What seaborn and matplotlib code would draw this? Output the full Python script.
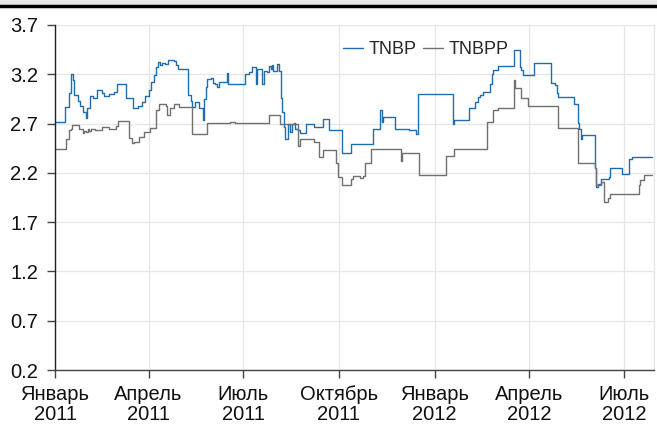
import pandas as pd
import matplotlib
matplotlib.use("Agg")
import matplotlib.pyplot as plt
import seaborn as sns

# TNBP (blue) change points
tnbp_dates = [
    "2011-01-01", "2011-01-11", "2011-01-14", "2011-01-16", "2011-01-18", "2011-01-19",
    "2011-01-23", "2011-01-25", "2011-01-28", "2011-01-31", "2011-02-01", "2011-02-04",
    "2011-02-07", "2011-02-10", "2011-02-15", "2011-02-17", "2011-02-22", "2011-02-27",
    "2011-03-02", "2011-03-10", "2011-03-17", "2011-03-22", "2011-03-26", "2011-03-29",
    "2011-04-01", "2011-04-03", "2011-04-06", "2011-04-08", "2011-04-10", "2011-04-12",
    "2011-04-14", "2011-04-17", "2011-04-20", "2011-04-25", "2011-04-27", "2011-04-29",
    "2011-05-09", "2011-05-12", "2011-05-13", "2011-05-16", "2011-05-19", "2011-05-23",
    "2011-05-24", "2011-05-26", "2011-05-27", "2011-05-31", "2011-06-02", "2011-06-04",
    "2011-06-06", "2011-06-08", "2011-06-15", "2011-06-16", "2011-07-03", "2011-07-07",
    "2011-07-09", "2011-07-13", "2011-07-14", "2011-07-19", "2011-07-21", "2011-07-24",
    "2011-07-26", "2011-07-28", "2011-07-29", "2011-07-30", "2011-08-02", "2011-08-04",
    "2011-08-06", "2011-08-07", "2011-08-09", "2011-08-10", "2011-08-13", "2011-08-15",
    "2011-08-17", "2011-08-19", "2011-08-20", "2011-08-23", "2011-08-25", "2011-08-30",
    "2011-09-07", "2011-09-16", "2011-09-21", "2011-10-04", "2011-10-13", "2011-11-03",
    "2011-11-10", "2011-11-11", "2011-11-12", "2011-11-24", "2011-12-07", "2011-12-14",
    "2011-12-16", "2012-01-19", "2012-01-20", "2012-02-03", "2012-02-09", "2012-02-12",
    "2012-02-14", "2012-02-17", "2012-02-23", "2012-02-25", "2012-02-26", "2012-03-02",
    "2012-03-17", "2012-03-23", "2012-03-24", "2012-03-26", "2012-04-06", "2012-04-22",
    "2012-04-26", "2012-04-28", "2012-04-29", "2012-05-14", "2012-05-18", "2012-05-19",
    "2012-05-21", "2012-05-22", "2012-06-03", "2012-06-04", "2012-06-06", "2012-06-09",
    "2012-06-17", "2012-06-18", "2012-06-29", "2012-07-06", "2012-07-09", "2012-07-28",
]
tnbp_values = [
    2.72, 2.87, 3.01, 3.20, 3.14, 2.99,
    2.93, 2.88, 2.82, 2.76, 2.86, 2.98,
    2.96, 3.04, 3.01, 2.98, 3.00, 3.02,
    3.10, 2.96, 2.86, 2.88, 2.92, 2.98,
    3.04, 3.12, 3.19, 3.27, 3.32, 3.29,
    3.31, 3.30, 3.35, 3.33, 3.29, 3.25,
    2.99, 2.93, 2.87, 2.92, 2.86, 2.74,
    2.95, 3.07, 3.15, 3.16, 3.11, 3.10,
    3.07, 3.12, 3.21, 3.10, 3.20, 3.22,
    3.27, 3.10, 3.25, 3.10, 3.23, 3.22,
    3.28, 3.25, 3.29, 3.23, 3.30, 3.23,
    2.96, 2.82, 2.67, 2.54, 2.70, 2.61,
    2.70, 2.71, 2.65, 2.63, 2.60, 2.70,
    2.67, 2.75, 2.63, 2.40, 2.49, 2.65,
    2.84, 2.72, 2.77, 2.64, 2.63, 2.59,
    3.00, 2.70, 2.74, 2.86, 2.92, 2.97,
    2.99, 3.02, 3.10, 3.20, 3.24, 3.28,
    3.45, 3.27, 3.24, 3.19, 3.31, 3.11,
    3.09, 3.01, 2.97, 2.90, 2.71, 2.64,
    2.54, 2.58, 2.25, 2.06, 2.09, 2.14,
    2.16, 2.25, 2.19, 2.34, 2.36, 2.36,
]

# TNBPP (gray) change points
tnbpp_dates = [
    "2011-01-01", "2011-01-12", "2011-01-14", "2011-01-16", "2011-01-17", "2011-01-24",
    "2011-01-28", "2011-01-29", "2011-01-31", "2011-02-02", "2011-02-03", "2011-02-05",
    "2011-02-08", "2011-02-15", "2011-02-22", "2011-03-01", "2011-03-03", "2011-03-13",
    "2011-03-16", "2011-03-18", "2011-03-23", "2011-03-28", "2011-04-02", "2011-04-08",
    "2011-04-11", "2011-04-18", "2011-04-19", "2011-04-22", "2011-04-25", "2011-04-30",
    "2011-05-13", "2011-05-27", "2011-06-18", "2011-06-23", "2011-07-26", "2011-08-05",
    "2011-08-23", "2011-08-25", "2011-09-07", "2011-09-12", "2011-09-16", "2011-09-28",
    "2011-09-30", "2011-10-04", "2011-10-13", "2011-10-15", "2011-10-21", "2011-10-24",
    "2011-10-26", "2011-11-01", "2011-11-30", "2011-12-01", "2011-12-17", "2012-01-12",
    "2012-01-20", "2012-02-20", "2012-02-26", "2012-03-02", "2012-03-17", "2012-03-18",
    "2012-03-24", "2012-03-31", "2012-04-29", "2012-05-18", "2012-06-03", "2012-06-04",
    "2012-06-09", "2012-06-12", "2012-06-16", "2012-06-18", "2012-07-16", "2012-07-17",
    "2012-07-20", "2012-07-28",
]
tnbpp_values = [
    2.44, 2.54, 2.63, 2.65, 2.69, 2.65,
    2.60, 2.62, 2.61, 2.64, 2.62, 2.64,
    2.63, 2.67, 2.64, 2.68, 2.73, 2.55,
    2.50, 2.51, 2.56, 2.61, 2.66, 2.84,
    2.90, 2.88, 2.79, 2.86, 2.90, 2.87,
    2.59, 2.71, 2.72, 2.71, 2.79, 2.70,
    2.47, 2.54, 2.51, 2.36, 2.43, 2.30,
    2.16, 2.08, 2.14, 2.17, 2.15, 2.17,
    2.30, 2.44, 2.32, 2.40, 2.18, 2.37,
    2.44, 2.72, 2.84, 2.86, 3.14, 3.06,
    2.96, 2.88, 2.66, 2.30, 2.25, 2.08,
    2.11, 1.90, 1.95, 1.99, 2.08, 2.13,
    2.18, 2.18,
]

series_names = ["TNBP", "TNBPP"]
series_colors = ["#1f6db0", "#707070"]

tick_dates = ["2011-01-01", "2011-04-01", "2011-07-01", "2011-10-01",
              "2012-01-01", "2012-04-01", "2012-07-01"]
tick_labels = ["Январь\n2011", "Апрель\n2011", "Июль\n2011", "Октябрь\n2011",
               "Январь\n2012", "Апрель\n2012", "Июль\n2012"]
y_ticks = [0.2, 0.7, 1.2, 1.7, 2.2, 2.7, 3.2, 3.7]

df = pd.concat([
    pd.DataFrame({"date": pd.to_datetime(tnbp_dates), "value": tnbp_values, "series": series_names[0]}),
    pd.DataFrame({"date": pd.to_datetime(tnbpp_dates), "value": tnbpp_values, "series": series_names[1]}),
])

sns.set_theme(style="whitegrid")
plt.rcParams["font.family"] = ["Liberation Sans", "DejaVu Sans"]

fig = plt.figure(figsize=(6.57, 4.28), dpi=100)
ax = fig.add_axes([55 / 657, 1 - 370 / 428, 599 / 657, 345 / 428])

sns.lineplot(data=df, x="date", y="value", hue="series",
             palette=dict(zip(series_names, series_colors)),
             drawstyle="steps-post", linewidth=1.0, ax=ax, estimator=None)

ax.set_xlim(pd.Timestamp("2011-01-01"), pd.Timestamp("2012-07-30"))
ax.set_ylim(0.2, 3.7)
ax.set_yticks(y_ticks)
ax.set_yticklabels([f"{v:.1f}" for v in y_ticks])
ax.set_xticks(pd.to_datetime(tick_dates))
ax.set_xticklabels(tick_labels, linespacing=1.05)
ax.set_xlabel("")
ax.set_ylabel("")

ax.grid(True, color="#e6e6e6", linewidth=0.9)
ax.spines["top"].set_visible(False)
ax.spines["right"].set_color("#e6e6e6")
ax.spines["right"].set_linewidth(1.0)
ax.spines["left"].set_color("#222222")
ax.spines["left"].set_linewidth(1.0)
ax.spines["bottom"].set_color("#444444")
ax.spines["bottom"].set_linewidth(1.0)
ax.tick_params(axis="both", which="both", length=6, width=1.0, color="#444444",
               labelsize=14.5, labelcolor="#111111", pad=4, direction="out")
ax.tick_params(axis="y", left=True, pad=6)
ax.tick_params(axis="x", bottom=True, pad=5)

leg = ax.legend(loc="upper center", bbox_to_anchor=(0.619, 0.975), ncol=2, frameon=False,
                handlelength=1.1, handletextpad=0.3, columnspacing=0.35, fontsize=13,
                borderaxespad=0)
for h in leg.get_lines():
    h.set_linewidth(1.0)

# frame strip at the top of the figure
fig.patches.append(plt.Rectangle((0, 1 - 4 / 428), 1, 4 / 428, transform=fig.transFigure,
                                 color="#e9e9e9", zorder=0))
fig.lines.append(plt.Line2D([0, 1], [1 - 5.5 / 428, 1 - 5.5 / 428], transform=fig.transFigure,
                            color="black", linewidth=2.5))

fig.savefig("out.png", dpi=100)
